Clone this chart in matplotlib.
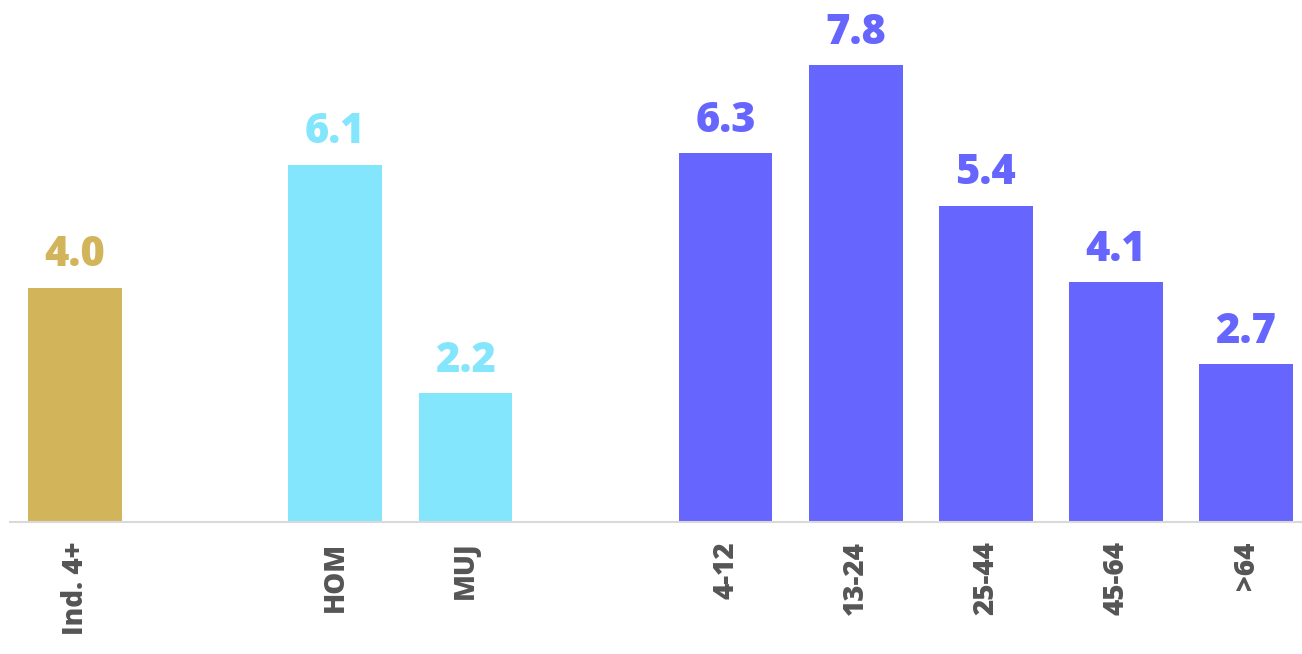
import matplotlib
matplotlib.use("Agg")
import matplotlib.pyplot as plt

categories = ["Ind. 4+", "", "HOM", "MUJ", "", "4-12", "13-24", "25-44", "45-64", ">64"]
values = [4.0, None, 6.1, 2.2, None, 6.3, 7.8, 5.4, 4.1, 2.7]
labels = ["4.0", "", "6.1", "2.2", "", "6.3", "7.8", "5.4", "4.1", "2.7"]
colors = ["#D2B55B", None, "#84E6FC", "#84E6FC", None, "#6666FF", "#6666FF", "#6666FF", "#6666FF", "#6666FF"]

plt.rcParams['font.family'] = ['Open Sans', 'DejaVu Sans']

fig = plt.figure(figsize=(13.02, 6.54), dpi=100)
ax = fig.add_axes([10/1302, 132/654, 1 - 10/1302, 522/654])

for i, (v, c, lab) in enumerate(zip(values, colors, labels)):
    if v is None:
        continue
    ax.bar(i, v, width=0.72, color=c, zorder=2)
    ax.annotate(lab, (i, v), xytext=(0, 8), textcoords="offset points",
                ha="center", va="bottom", color=c, fontsize=30, fontweight="heavy")

ax.set_xlim(-0.5, 9.43)
ax.set_ylim(0, 522/58.6)
ax.set_xticks(range(len(categories)))
ax.set_xticklabels(categories, rotation=90, fontsize=20, fontweight="heavy", color="#555555")
ax.tick_params(axis="x", length=0, pad=14)
ax.set_yticks([])
for s in ["top", "right", "left"]:
    ax.spines[s].set_visible(False)
ax.spines["bottom"].set_color("#d9d9d9")
ax.spines["bottom"].set_linewidth(1.5)

fig.savefig("out.png", dpi=100)
